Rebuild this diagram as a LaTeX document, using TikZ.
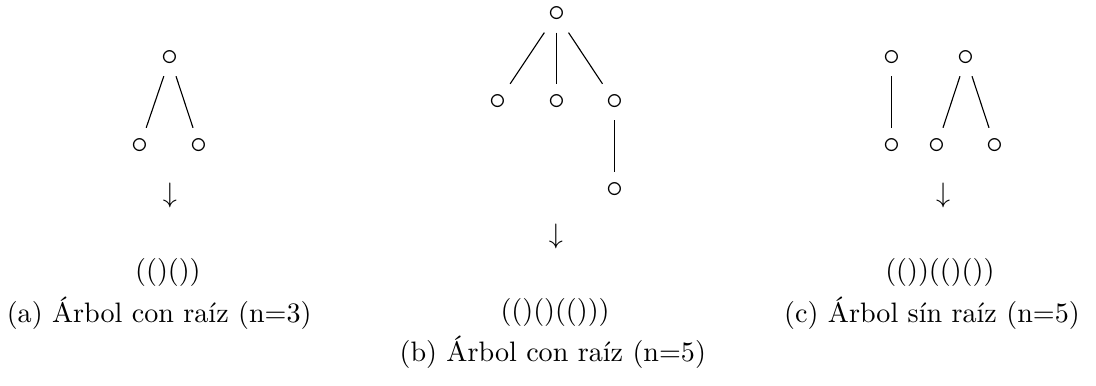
\documentclass[tikz,border=0pt]{standalone}
\usetikzlibrary{positioning}
\tikzset{
    vert/.style={font=\large, inner sep=0.5pt, outer sep=3.3pt},
    branch/.style={thin},
    mapsto/.style={inner sep=1pt},
    seq/.style={inner sep=1pt},
    captxt/.style={inner sep=1pt},
}

\begin{document}
\begin{tikzpicture}

    \useasboundingbox (0,0) rectangle (13.7,-4.825);

    % (a) rooted tree, n=3
    \node[vert] at (2.125,-0.725)  (a0) {$\circ$};
    \node[vert] at (1.75,-1.825)   (a1) {$\circ$};
    \node[vert] at (2.4875,-1.825) (a2) {$\circ$};
    \foreach \v in {a1,a2}
        \draw[branch] (a0) -- (\v);
    \node[mapsto] at (2.125,-2.44) (aarr) {$\downarrow$};
    \node[seq] at (2.1,-3.4) (aseq) {$(()())$};
    \node[captxt] at (1.99,-3.91) (acap) {(a) Árbol con raíz (n=3)};

    % (b) rooted tree, n=5
    \node[vert] at (6.95625,-0.18)  (b0) {$\circ$};
    \node[vert] at (6.225,-1.275)   (b1) {$\circ$};
    \node[vert] at (6.95625,-1.275) (b2) {$\circ$};
    \node[vert] at (7.68125,-1.275) (b3) {$\circ$};
    \node[vert] at (7.68125,-2.375) (b4) {$\circ$};
    \foreach \v in {b1,b2,b3}
        \draw[branch] (b0) -- (\v);
    \draw[branch] (b3) -- (b4);
    \node[mapsto] at (6.95,-2.96) (barr) {$\downarrow$};
    \node[seq] at (6.94,-3.91) (bseq) {$(()()(()))$};
    \node[captxt] at (6.91,-4.4) (bcap) {(b) Árbol con raíz (n=5)};

    % (c) forest, n=5
    \node[vert] at (11.14375,-0.725) (c0) {$\circ$};
    \node[vert] at (11.14375,-1.825) (c1) {$\circ$};
    \node[vert] at (12.075,-0.725)   (c2) {$\circ$};
    \node[vert] at (11.7125,-1.825)  (c3) {$\circ$};
    \node[vert] at (12.4375,-1.825)  (c4) {$\circ$};
    \draw[branch] (c0) -- (c1);
    \foreach \v in {c3,c4}
        \draw[branch] (c2) -- (\v);
    \node[mapsto] at (11.79,-2.44) (carr) {$\downarrow$};
    \node[seq] at (11.75,-3.4) (cseq) {$(())(()())$};
    \node[captxt] at (11.65,-3.91) (ccap) {(c) Árbol sín raíz (n=5)};

\end{tikzpicture}
\end{document}
